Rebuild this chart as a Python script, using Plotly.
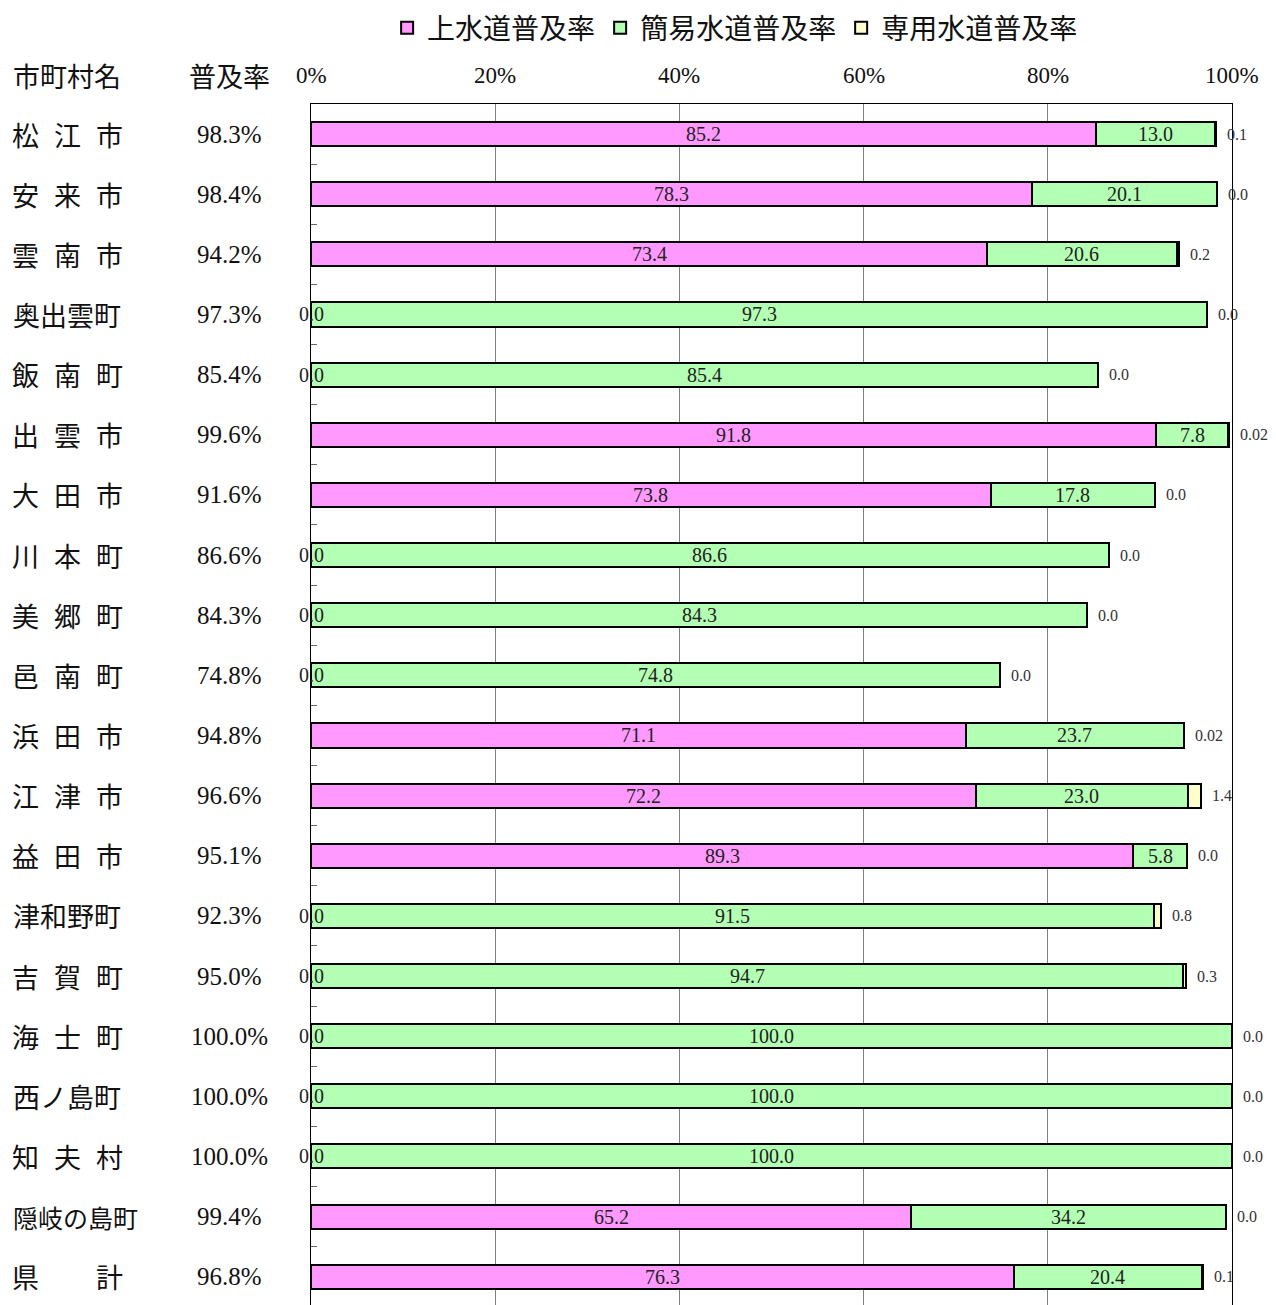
import plotly.graph_objects as go

names = ["松 江 市", "安 来 市", "雲 南 市", "奥出雲町", "飯 南 町", "出 雲 市", "大 田 市",
         "川 本 町", "美 郷 町", "邑 南 町", "浜 田 市", "江 津 市", "益 田 市", "津和野町",
         "吉 賀 町", "海 士 町", "西ノ島町", "知 夫 村", "隠岐の島町", "県 計"]
rates = [98.3, 98.4, 94.2, 97.3, 85.4, 99.6, 91.6, 86.6, 84.3, 74.8,
         94.8, 96.6, 95.1, 92.3, 95.0, 100.0, 100.0, 100.0, 99.4, 96.8]
josui = [85.2, 78.3, 73.4, 0.0, 0.0, 91.8, 73.8, 0.0, 0.0, 0.0,
         71.1, 72.2, 89.3, 0.0, 0.0, 0.0, 0.0, 0.0, 65.2, 76.3]
kani = [13.0, 20.1, 20.6, 97.3, 85.4, 7.8, 17.8, 86.6, 84.3, 74.8,
        23.7, 23.0, 5.8, 91.5, 94.7, 100.0, 100.0, 100.0, 34.2, 20.4]
senyo = [0.1, 0.0, 0.2, 0.0, 0.0, 0.02, 0.0, 0.0, 0.0, 0.0,
         0.02, 1.4, 0.0, 0.8, 0.3, 0.0, 0.0, 0.0, 0.0, 0.1]
senyo_txt = ["0.1", "0.0", "0.2", "0.0", "0.0", "0.02", "0.0", "0.0", "0.0", "0.0",
             "0.02", "1.4", "0.0", "0.8", "0.3", "0.0", "0.0", "0.0", "0.0", "0.1"]
series_names = ["上水道普及率", "簡易水道普及率", "専用水道普及率"]
x_ticks = [0, 20, 40, 60, 80, 100]

JP = "Noto Sans CJK JP"
SERIF = "Liberation Serif"
colors = ["#FF99FF", "#B3FFB3", "#FFFFCC"]

# page has an 8px body margin; compensate so the plot lands at 311..1232, 104..
OFF = 8
W, H = 1276 - OFF, 1305 - OFF
L, R, T, B = 311 - OFF, 44, 104 - OFF, 0
PH = H - T - B
ypos = list(range(len(names)))

fig = go.Figure()
for vals, nm, col in zip([josui, kani, senyo], series_names, colors):
    fig.add_trace(go.Bar(
        y=ypos, x=vals, orientation="h", name=nm, width=0.4,
        marker=dict(color=col, line=dict(color="black", width=2)),
        hoverinfo="skip"))

ann = []
for i in ypos:
    ann.append(dict(x=josui[i] / 2, y=i, xref="x", yref="y", text=f"{josui[i]:.1f}",
                    showarrow=False, font=dict(family=SERIF, size=20, color="#222")))
    ann.append(dict(x=josui[i] + kani[i] / 2, y=i, xref="x", yref="y", text=f"{kani[i]:.1f}",
                    showarrow=False, font=dict(family=SERIF, size=20, color="#222")))
    tot = josui[i] + kani[i] + senyo[i]
    ann.append(dict(x=tot, y=i, xref="x", yref="y", text=senyo_txt[i], xanchor="left",
                    xshift=9, showarrow=False, font=dict(family=SERIF, size=16, color="#333")))

for i, nm in enumerate(names):
    parts = nm.split(" ")
    if len(parts) == 1:
        sz = 27 if len(nm) <= 4 else 25
        ann.append(dict(x=0, xref="paper", xshift=11 - 311, y=i, yref="y", text=nm,
                        xanchor="left", showarrow=False, font=dict(family=JP, size=sz, color="#111")))
    else:
        n = len(parts)
        for k, p in enumerate(parts):
            cx = 25 + k * 84 / (n - 1)
            ann.append(dict(x=0, xref="paper", xshift=cx - 311, y=i, yref="y", text=p,
                            xanchor="center", showarrow=False,
                            font=dict(family=JP, size=27, color="#111")))
    ann.append(dict(x=0, xref="paper", xshift=229 - 311, y=i, yref="y", text=f"{rates[i]:.1f}%",
                    xanchor="center", showarrow=False, font=dict(family=SERIF, size=25, color="#111")))

ann.append(dict(x=0, xref="paper", xshift=11 - 311, y=1, yref="paper", yshift=29, text="市町村名",
                xanchor="left", yanchor="middle", showarrow=False, font=dict(family=JP, size=27, color="#111")))
ann.append(dict(x=0, xref="paper", xshift=229 - 311, y=1, yref="paper", yshift=29, text="普及率",
                xanchor="center", yanchor="middle", showarrow=False, font=dict(family=JP, size=27, color="#111")))
for t in x_ticks:
    ann.append(dict(x=t, xref="x", y=1, yref="paper", yshift=29, text=f"{t}%",
                    xanchor="center", yanchor="middle", showarrow=False,
                    font=dict(family=SERIF, size=23, color="#111")))

fig.update_layout(
    width=W, height=H, margin=dict(l=L, r=R, t=T, b=B, pad=0, autoexpand=False),
    barmode="stack", bargap=0.6,
    paper_bgcolor="white", plot_bgcolor="white",
    annotations=ann,
    legend=dict(orientation="h", x=0.4605, xanchor="center",
                yref="container", y=1 - (28 - OFF) / H, yanchor="middle",
                font=dict(family=JP, size=28, color="#111"),
                traceorder="normal", bgcolor="rgba(0,0,0,0)"),
    xaxis=dict(range=[0, 100], tickvals=x_ticks, showticklabels=False, showgrid=True,
               gridcolor="#808080", gridwidth=1, showline=True, linecolor="black", linewidth=1,
               mirror=True, zeroline=False, fixedrange=True),
    yaxis=dict(range=[19.47, -0.5], tickvals=[i + 0.5 for i in range(-1, 19)],
               showticklabels=False, ticks="inside", ticklen=6, tickcolor="#666",
               showgrid=False, showline=True, linecolor="black", linewidth=1, mirror=True,
               zeroline=False, fixedrange=True),
    showlegend=True,
)

fig.write_html("out.html")
